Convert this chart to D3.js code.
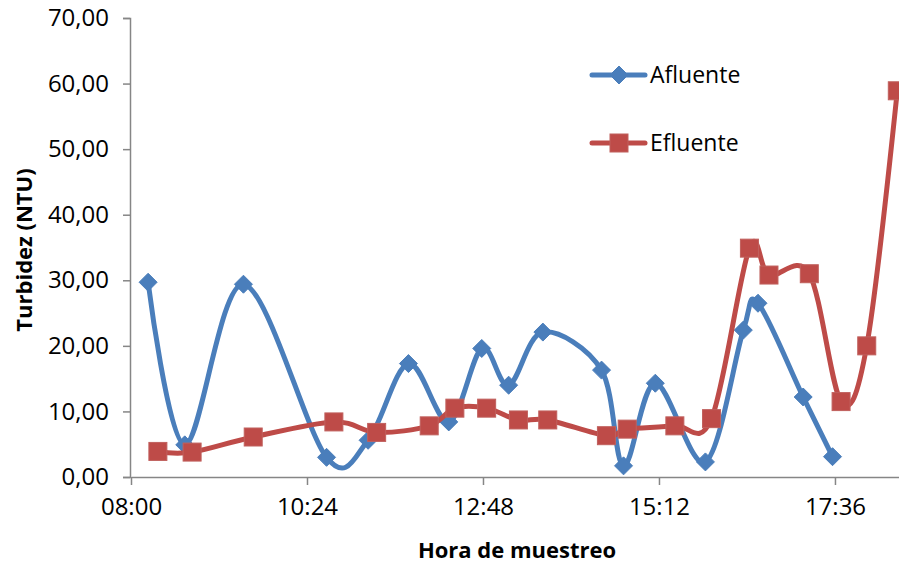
<!DOCTYPE html>
<html>
<head>
<meta charset="utf-8">
<script src="https://cdn.jsdelivr.net/npm/d3@7"></script>
<style>
  html, body { margin: 0; padding: 0; background: #fff; }
  svg { display: block; }
  text { font-family: "Open Sans", "Liberation Sans", sans-serif; fill: #000; }
</style>
</head>
<body>
<svg id="chart" width="899" height="565"></svg>
<script>
// ---- data ----
const afluenteTimes = ["08:14","08:44","09:32","10:40","11:14","11:47","12:20","12:47","13:09","13:37","14:25","14:43","15:09","15:50","16:21","16:33","17:10","17:34"];
const afluenteValues = [29.7, 4.9, 29.4, 3.0, 5.6, 17.3, 8.4, 19.6, 14.0, 22.1, 16.3, 1.7, 14.3, 2.3, 22.4, 26.5, 12.2, 3.1];
const efluenteTimes = ["08:22","08:50","09:40","10:46","11:21","12:04","12:25","12:51","13:17","13:41","14:29","14:46","15:25","15:55","16:26","16:42","17:15","17:41","18:02","18:27"];
const efluenteValues = [3.9, 3.8, 6.1, 8.4, 6.8, 7.8, 10.5, 10.5, 8.7, 8.7, 6.3, 7.3, 7.8, 8.9, 34.9, 30.8, 31.0, 11.5, 20.0, 58.9];
const xTickLabels = ["08:00","10:24","12:48","15:12","17:36"];
const yTickValues = [0, 10, 20, 30, 40, 50, 60, 70];
const seriesNames = ["Afluente", "Efluente"];
const seriesColors = ["#4A7EBB", "#BE4B48"];
const xTitle = "Hora de muestreo";
const yTitle = "Turbidez (NTU)";

const toMin = s => { const [h, m] = s.split(":").map(Number); return h * 60 + m; };
const fmtTime = m => String(Math.floor(m / 60)).padStart(2, "0") + ":" + String(Math.round(m % 60)).padStart(2, "0");

const svg = d3.select("#chart");
const x = d3.scaleLinear().domain([480, 1108.8]).range([131, 899.5]);
const y = d3.scaleLinear().domain([0, 70]).range([477, 18]);
const axisColor = "#868686";

// y axis
const yAxis = svg.append("g").attr("transform", "translate(130,0)")
  .call(d3.axisLeft(y).tickValues(yTickValues).tickSize(7).tickPadding(14)
    .tickFormat(d => d3.format(".2f")(d).replace(".", ",")));
yAxis.select(".domain").attr("stroke", axisColor).attr("stroke-width", 1.5);
yAxis.selectAll(".tick line").attr("stroke", axisColor).attr("stroke-width", 1.5);
yAxis.selectAll(".tick text").style("font-size", "24px").attr("fill", "#000");

// x axis
const xAxis = svg.append("g").attr("transform", "translate(0,477)")
  .call(d3.axisBottom(x).tickValues(xTickLabels.map(toMin)).tickSize(8).tickSizeOuter(0).tickPadding(13)
    .tickFormat(fmtTime));
xAxis.select(".domain").attr("stroke", axisColor).attr("stroke-width", 1.5);
xAxis.selectAll(".tick line").attr("stroke", axisColor).attr("stroke-width", 1.5);
xAxis.selectAll(".tick text").style("font-size", "24px").attr("fill", "#000");

// titles
svg.append("text").attr("x", 517).attr("y", 558).attr("text-anchor", "middle")
  .style("font-size", "22px").style("font-weight", "bold").text(xTitle);
svg.append("text").attr("transform", "translate(32,250) rotate(-90)").attr("text-anchor", "middle")
  .style("font-size", "22px").style("font-weight", "bold").text(yTitle);

const line = d3.line().x(d => x(d.t)).y(d => y(d.v)).curve(d3.curveCardinal.tension(0));

const series = [
  { name: seriesNames[0], color: seriesColors[0], marker: "diamond",
    data: afluenteTimes.map((t, i) => ({ t: toMin(t), v: afluenteValues[i] })) },
  { name: seriesNames[1], color: seriesColors[1], marker: "square",
    data: efluenteTimes.map((t, i) => ({ t: toMin(t), v: efluenteValues[i] })) }
];

function drawMarker(g, type, cx, cy, color) {
  if (type === "diamond") {
    const r = 9;
    g.append("path").attr("d", `M${cx},${cy - r}L${cx + r},${cy}L${cx},${cy + r}L${cx - r},${cy}Z`)
      .attr("fill", color).attr("stroke", color).attr("stroke-width", 1);
  } else {
    const s = 18;
    g.append("rect").attr("x", cx - s / 2).attr("y", cy - s / 2).attr("width", s).attr("height", s)
      .attr("fill", color).attr("stroke", "#C0605D").attr("stroke-width", 1);
  }
}

series.forEach(s => {
  const g = svg.append("g");
  g.append("path").datum(s.data).attr("d", line).attr("fill", "none")
    .attr("stroke", s.color).attr("stroke-width", 5).attr("stroke-linejoin", "round").attr("stroke-linecap", "round");
  s.data.forEach(d => drawMarker(g, s.marker, x(d.t), y(d.v), s.color));
});

// legend
const legendY = [75, 143];
series.forEach((s, i) => {
  const g = svg.append("g");
  g.append("line").attr("x1", 592).attr("x2", 645).attr("y1", legendY[i]).attr("y2", legendY[i])
    .attr("stroke", s.color).attr("stroke-width", 5).attr("stroke-linecap", "round");
  drawMarker(g, s.marker, 619, legendY[i], s.color);
  g.append("text").attr("x", 650).attr("y", legendY[i] + 8).style("font-size", "23px").text(s.name);
});
</script>
</body>
</html>
